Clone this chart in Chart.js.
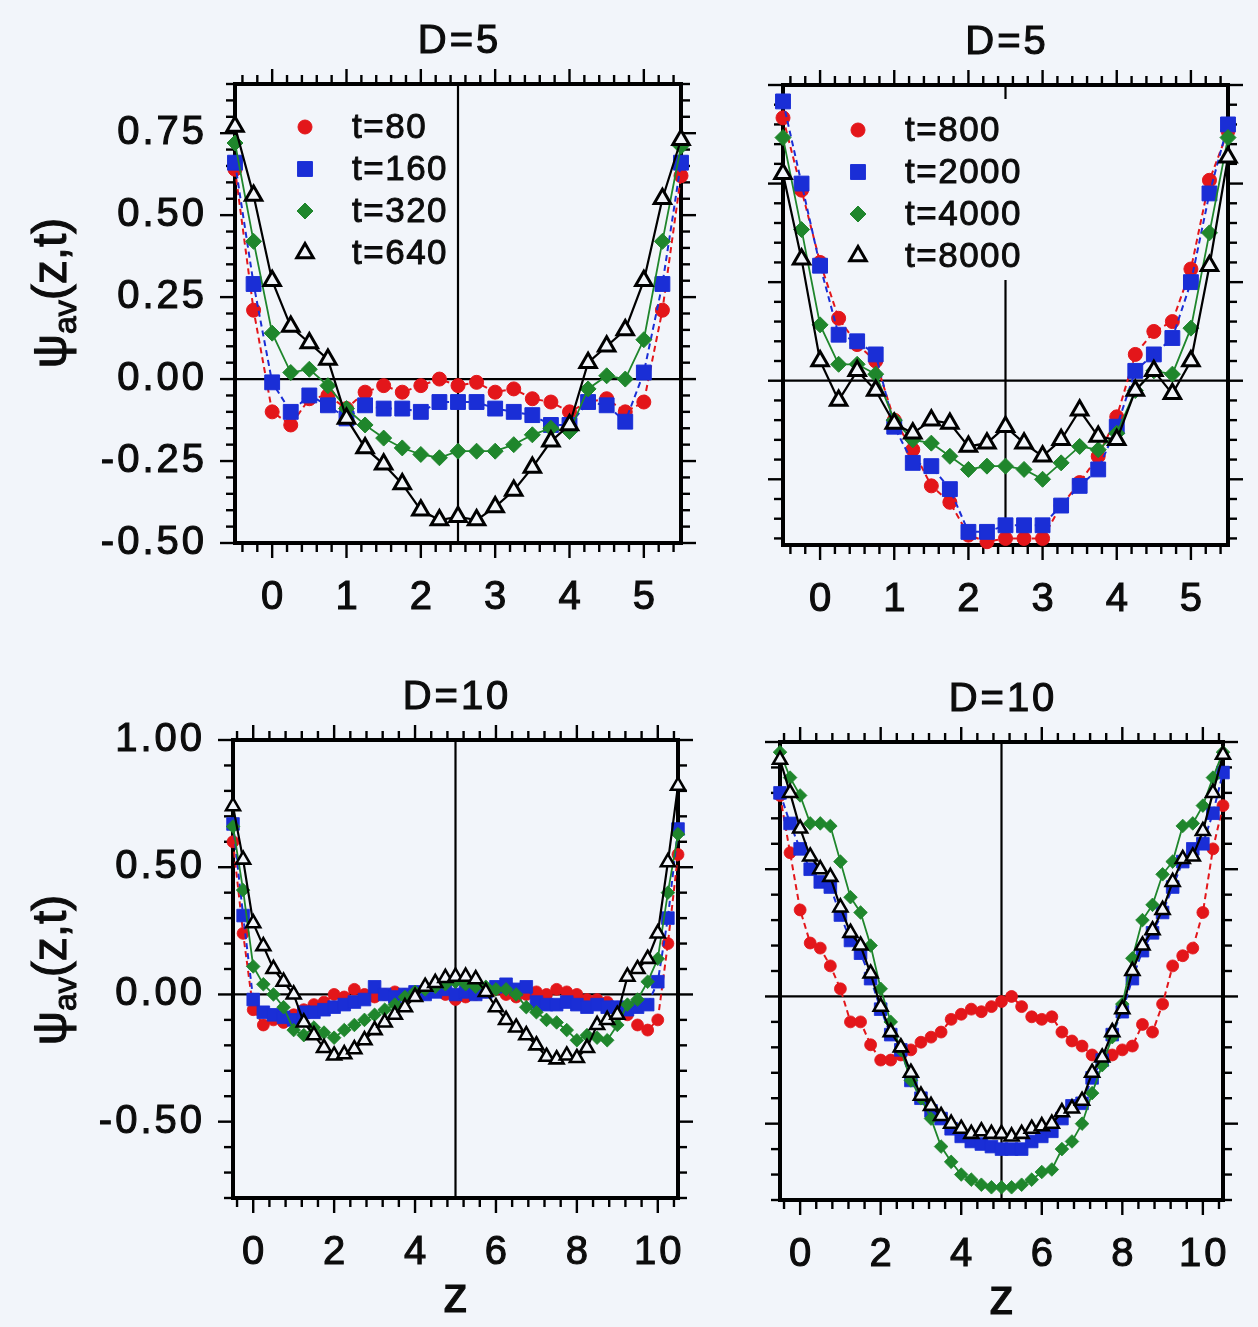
<!DOCTYPE html>
<html>
<head>
  <meta charset="UTF-8">
  <title>ψav(z,t)</title>
  <style>
    body {
      margin: 0;
      width: 1258px;
      height: 1327px;
      background: #f2f5fa;
      overflow: hidden;
      position: relative;
    }

    canvas {
      position: absolute;
    }
  </style>
  <script src="https://cdn.jsdelivr.net/npm/chart.js"></script>
</head>
<body>
  <canvas id="d5early" width="730" height="650" style="left:0;top:0"></canvas>
  <canvas id="d5late" width="528" height="650" style="left:730px;top:0"></canvas>
  <canvas id="d10early" width="730" height="677" style="left:0;top:650px"></canvas>
  <canvas id="d10late" width="528" height="677" style="left:730px;top:650px"></canvas>

  <script>
    // z grid of the profiles
    var zD5 = [-0.5, -0.25, 0, 0.25, 0.5, 0.75, 1, 1.25, 1.5, 1.75, 2, 2.25, 2.5,
               2.75, 3, 3.25, 3.5, 3.75, 4, 4.25, 4.5, 4.75, 5, 5.25, 5.5];
    var zD10 = [-0.5, -0.25, 0, 0.25, 0.5, 0.75, 1, 1.25, 1.5, 1.75, 2, 2.25, 2.5,
                2.75, 3, 3.25, 3.5, 3.75, 4, 4.25, 4.5, 4.75, 5, 5.25, 5.5, 5.75,
                6, 6.25, 6.5, 6.75, 7, 7.25, 7.5, 7.75, 8, 8.25, 8.5, 8.75, 9,
                9.25, 9.5, 9.75, 10, 10.25, 10.5];

    var labelsEarly = ['t=80', 't=160', 't=320', 't=640'];
    var labelsLate = ['t=800', 't=2000', 't=4000', 't=8000'];

    // D=5, early times
    var d5t80 = [0.64, 0.21, -0.10, -0.14, -0.06, -0.05, -0.09, -0.04, -0.02, -0.04, -0.02, 0.00, -0.02,
                 -0.01, -0.04, -0.03, -0.06, -0.07, -0.10, -0.07, -0.06, -0.10, -0.07, 0.21, 0.62];
    var d5t160 = [0.66, 0.29, -0.01, -0.10, -0.05, -0.08, -0.12, -0.08, -0.09, -0.09, -0.10, -0.07, -0.07,
                  -0.07, -0.09, -0.10, -0.11, -0.14, -0.14, -0.07, -0.08, -0.13, 0.02, 0.29, 0.66];
    var d5t320 = [0.72, 0.42, 0.14, 0.02, 0.03, -0.02, -0.09, -0.14, -0.18, -0.21, -0.23, -0.24, -0.22,
                  -0.22, -0.22, -0.20, -0.17, -0.15, -0.16, -0.03, 0.01, 0.00, 0.12, 0.42, 0.71];
    var d5t640 = [0.77, 0.56, 0.30, 0.16, 0.11, 0.06, -0.12, -0.21, -0.26, -0.32, -0.40, -0.43, -0.42,
                  -0.43, -0.39, -0.34, -0.27, -0.19, -0.14, 0.05, 0.10, 0.15, 0.30, 0.55, 0.73];

    // D=5, late times
    var d5t800 = [0.80, 0.58, 0.36, 0.19, 0.11, 0.06, -0.12, -0.21, -0.32, -0.37, -0.47, -0.49, -0.48,
                  -0.48, -0.48, -0.38, -0.31, -0.23, -0.11, 0.08, 0.15, 0.18, 0.34, 0.61, 0.76];
    var d5t2000 = [0.85, 0.60, 0.35, 0.14, 0.12, 0.08, -0.14, -0.25, -0.26, -0.33, -0.46, -0.46, -0.44,
                   -0.44, -0.44, -0.38, -0.32, -0.27, -0.14, 0.03, 0.08, 0.13, 0.30, 0.57, 0.78];
    var d5t4000 = [0.74, 0.46, 0.17, 0.05, 0.05, 0.02, -0.12, -0.18, -0.19, -0.23, -0.27, -0.26, -0.26,
                   -0.27, -0.30, -0.25, -0.20, -0.21, -0.16, -0.03, 0.03, 0.02, 0.16, 0.45, 0.74];
    var d5t8000 = [0.63, 0.37, 0.06, -0.06, 0.03, -0.03, -0.13, -0.16, -0.12, -0.13, -0.20, -0.19, -0.14,
                   -0.19, -0.23, -0.18, -0.09, -0.17, -0.18, -0.03, 0.03, -0.04, 0.06, 0.35, 0.68];

    // D=10, early times
    var d10t80 = [0.60, 0.24, -0.06, -0.12, -0.10, -0.11, -0.08, -0.06, -0.04, -0.03, 0.00, -0.01, 0.02,
                  0.00, -0.01, 0.00, 0.01, 0.00, 0.01, 0.02, 0.02, 0.00, -0.02, -0.01, 0.00, 0.01,
                  0.02, 0.00, -0.01, 0.00, 0.01, 0.00, 0.02, 0.01, 0.00, -0.02, -0.02, -0.03, -0.05,
                  -0.08, -0.12, -0.14, -0.10, 0.20, 0.55];
    var d10t160 = [0.67, 0.31, -0.02, -0.07, -0.08, -0.09, -0.10, -0.07, -0.07, -0.06, -0.05, -0.04, -0.03,
                   -0.02, 0.03, 0.00, -0.01, 0.00, 0.01, 0.00, 0.01, 0.02, 0.00, 0.01, 0.00, 0.01,
                   0.03, 0.04, 0.02, 0.03, -0.03, -0.04, -0.04, -0.03, -0.04, -0.05, -0.04, -0.05, -0.05,
                   -0.06, -0.05, -0.04, 0.05, 0.30, 0.65];
    var d10t320 = [0.66, 0.41, 0.11, 0.04, 0.00, -0.05, -0.14, -0.16, -0.13, -0.15, -0.17, -0.14, -0.12,
                   -0.10, -0.08, -0.06, -0.04, -0.01, 0.01, 0.02, 0.03, 0.04, 0.05, 0.04, 0.03, 0.03,
                   0.02, 0.02, 0.00, -0.05, -0.07, -0.10, -0.11, -0.14, -0.18, -0.16, -0.17, -0.18, -0.12,
                   -0.04, -0.02, 0.05, 0.14, 0.40, 0.63];
    var d10t640 = [0.74, 0.53, 0.28, 0.19, 0.10, 0.05, 0.00, -0.11, -0.16, -0.21, -0.24, -0.235, -0.215,
                   -0.18, -0.14, -0.11, -0.08, -0.05, -0.01, 0.03, 0.045, 0.065, 0.07, 0.07, 0.06, 0.01,
                   -0.05, -0.10, -0.13, -0.16, -0.20, -0.245, -0.255, -0.24, -0.25, -0.21, -0.12, -0.10, -0.08,
                   0.07, 0.10, 0.14, 0.24, 0.52, 0.82];

    // D=10, late times
    var d10t800 = [0.79, 0.565, 0.34, 0.21, 0.19, 0.12, 0.03, -0.10, -0.10, -0.19, -0.25, -0.25, -0.23,
                   -0.21, -0.18, -0.16, -0.14, -0.09, -0.07, -0.05, -0.06, -0.04, -0.02, 0.00, -0.04, -0.08,
                   -0.09, -0.08, -0.14, -0.175, -0.195, -0.23, -0.25, -0.23, -0.21, -0.195, -0.11, -0.14, -0.03,
                   0.12, 0.16, 0.19, 0.33, 0.58, 0.75];
    var d10t2000 = [0.80, 0.68, 0.58, 0.50, 0.45, 0.43, 0.32, 0.22, 0.17, 0.07, -0.05, -0.15, -0.21,
                    -0.33, -0.40, -0.45, -0.48, -0.52, -0.55, -0.57, -0.58, -0.59, -0.60, -0.60, -0.60, -0.57,
                    -0.55, -0.53, -0.48, -0.43, -0.42, -0.32, -0.25, -0.15, -0.06, 0.07, 0.18, 0.25, 0.33,
                    0.43, 0.53, 0.58, 0.60, 0.72, 0.88];
    var d10t4000 = [0.96, 0.86, 0.79, 0.68, 0.68, 0.67, 0.53, 0.39, 0.33, 0.20, 0.03, -0.10, -0.21,
                    -0.33, -0.40, -0.48, -0.59, -0.65, -0.70, -0.72, -0.74, -0.75, -0.75, -0.75, -0.74, -0.72,
                    -0.69, -0.68, -0.60, -0.57, -0.50, -0.38, -0.27, -0.16, -0.03, 0.15, 0.30, 0.36, 0.48,
                    0.53, 0.67, 0.68, 0.75, 0.86, 0.96];
    var d10t8000 = [0.93, 0.80, 0.66, 0.55, 0.50, 0.47, 0.35, 0.25, 0.20, 0.09, -0.04, -0.14, -0.20,
                    -0.30, -0.39, -0.43, -0.47, -0.50, -0.52, -0.54, -0.53, -0.54, -0.54, -0.55, -0.54, -0.52,
                    -0.51, -0.50, -0.455, -0.44, -0.41, -0.30, -0.24, -0.14, -0.05, 0.10, 0.20, 0.26, 0.34,
                    0.45, 0.54, 0.55, 0.65, 0.80, 0.95];

    // axis ticks
    var xTicksD5 = [0, 1, 2, 3, 4, 5];
    var xTicksD10 = [0, 2, 4, 6, 8, 10];
    var yTicksD5 = [-0.5, -0.25, 0, 0.25, 0.5, 0.75];
    var yTicksD5Late = [-0.3, 0, 0.3, 0.6, 0.9];
    var yTicksD10 = [-0.5, 0, 0.5, 1.0];

    var BG = '#f2f5fa';
    var INK = '#0c0c0c';
    var FONT = '"Liberation Sans", Arial, Helvetica, sans-serif';

    // red, blue, green, black
    var seriesStyle = [
      { color: '#e3161a', fill: '#e3161a', point: 'circle', r: 7, dash: [6, 4], width: 2, pb: 1, order: 3 },
      { color: '#1a2ed6', fill: '#1a2ed6', point: 'rect', r: 10.5, dash: [6, 4], width: 2, pb: 1, order: 2 },
      { color: '#1f862c', fill: '#1f862c', point: 'rectRot', r: 8, dash: [], width: 1.8, pb: 1, order: 1 },
      { color: '#000000', fill: BG, point: 'triangle', r: 9.5, dash: [], width: 2.2, pb: 3, order: 0 }
    ];

    function line(ctx, x1, y1, x2, y2) {
      ctx.beginPath();
      ctx.moveTo(x1, y1);
      ctx.lineTo(x2, y2);
      ctx.stroke();
    }

    // slightly heavier text, like the printed figure
    function text(ctx, s, x, y) {
      ctx.fillText(s, x, y);
      ctx.strokeText(s, x, y);
    }

    function steps(min, max, step) {
      var out = [];
      for (var k = Math.ceil(min / step - 1e-9); k * step <= max + 1e-9; k++) {
        out.push(k * step);
      }
      return out;
    }

    function marker(ctx, st, x, y, scale) {
      ctx.save();
      ctx.setLineDash([]);
      ctx.fillStyle = st.fill;
      ctx.strokeStyle = st.color;
      ctx.lineWidth = st.pb;
      Chart.helpers.drawPoint(ctx, { pointStyle: st.point, radius: st.r * scale, rotation: 0, borderWidth: st.pb }, x, y);
      ctx.restore();
    }

    // frame, ticks, labels, guide lines and legend
    var framePlugin = {
      id: 'frame',
      beforeDatasetsDraw: function (chart, args, o) {
        var ctx = chart.ctx, a = chart.chartArea;
        var sx = chart.scales.x, sy = chart.scales.y;
        ctx.save();
        ctx.strokeStyle = '#000';
        ctx.fillStyle = '#000';

        // zero line and centre line
        ctx.lineWidth = 2.2;
        var y0 = sy.getPixelForValue(0);
        line(ctx, a.left, y0, a.right, y0);
        var xm = sx.getPixelForValue(o.mid);
        line(ctx, xm, a.top, xm, a.bottom);

        // legend
        if (o.legend) {
          var lg = o.legend;
          ctx.font = '35px ' + FONT;
          ctx.letterSpacing = '1.5px';
          var mx = a.left + lg.dx, tx = a.left + lg.tdx, ry = a.top + lg.dy;
          var wmax = 0;
          lg.labels.forEach(function (t) { wmax = Math.max(wmax, ctx.measureText(t).width); });
          ctx.fillStyle = BG;
          ctx.fillRect(mx - 18, a.top + 14, tx + wmax + 6 - (mx - 18), ry + 3 * lg.gap + 24 - (a.top + 14));
          ctx.textAlign = 'left';
          ctx.textBaseline = 'middle';
          lg.labels.forEach(function (t, i) {
            marker(ctx, seriesStyle[i], mx, ry + i * lg.gap, 1);
            ctx.fillStyle = INK;
            ctx.strokeStyle = INK;
            ctx.lineWidth = 0.9;
            text(ctx, t, tx, ry + i * lg.gap + 1);
          });
        }

        // box
        ctx.strokeStyle = '#000';
        ctx.lineWidth = 4;
        ctx.strokeRect(a.left, a.top, a.right - a.left, a.bottom - a.top);

        // ticks on all four sides, pointing out
        ctx.lineWidth = 2.4;
        steps(sx.min, sx.max, o.xMinor).forEach(function (v) {
          var major = o.xTicks.some(function (t) { return Math.abs(t - v) < 1e-6; });
          var len = major ? 15 : 9, px = sx.getPixelForValue(v);
          line(ctx, px, a.bottom, px, a.bottom + len);
          line(ctx, px, a.top, px, a.top - len);
        });
        steps(sy.min, sy.max, o.yMinor).forEach(function (v) {
          var major = o.yTicks.some(function (t) { return Math.abs(t - v) < 1e-6; });
          var len = major ? 15 : 9, py = sy.getPixelForValue(v);
          line(ctx, a.left, py, a.left - len, py);
          line(ctx, a.right, py, a.right + len, py);
        });

        // tick labels
        ctx.fillStyle = INK;
        ctx.strokeStyle = INK;
        ctx.lineWidth = 1.1;
        ctx.font = '40px ' + FONT;
        ctx.letterSpacing = '3px';
        ctx.textBaseline = 'middle';
        ctx.textAlign = 'center';
        o.xTicks.forEach(function (v) {
          text(ctx, String(v), sx.getPixelForValue(v) + 1.5, a.bottom + 55);
        });
        if (o.yLabels) {
          ctx.textAlign = 'right';
          o.yTicks.forEach(function (v) {
            text(ctx, v.toFixed(2), a.left - 28, sy.getPixelForValue(v));
          });
        }

        // panel title
        ctx.textAlign = 'center';
        text(ctx, o.title, (a.left + a.right) / 2 + 1.5, a.top - 42);

        // z under the bottom panels
        if (o.xTitle) {
          ctx.font = '50px ' + FONT;
          ctx.letterSpacing = '0px';
          text(ctx, 'z', (a.left + a.right) / 2, a.bottom + 100);
        }

        // psi_av(z,t) along the left side
        if (o.yTitle) {
          ctx.letterSpacing = '0px';
          ctx.translate(52, o.yTitle);
          ctx.rotate(-Math.PI / 2);
          ctx.textAlign = 'left';
          ctx.textBaseline = 'alphabetic';
          ctx.font = '48px ' + FONT;
          var w1 = ctx.measureText('ψ').width;
          var w3 = ctx.measureText('(z,t)').width;
          ctx.font = '32px ' + FONT;
          var w2 = ctx.measureText('av').width;
          var x0 = -(w1 + w2 + w3) / 2;
          ctx.font = '48px ' + FONT;
          text(ctx, 'ψ', x0, 14);
          ctx.font = '32px ' + FONT;
          text(ctx, 'av', x0 + w1, 24);
          ctx.font = '48px ' + FONT;
          text(ctx, '(z,t)', x0 + w1 + w2, 14);
        }
        ctx.restore();
      }
    };

    function makeChart(id, z, series, labels, scale, frame, padding, xr, yr) {
      var datasets = series.map(function (vals, i) {
        var st = seriesStyle[i];
        return {
          label: labels[i],
          data: z.map(function (zz, k) { return { x: zz, y: vals[k] }; }),
          borderColor: st.color,
          backgroundColor: st.fill,
          borderDash: st.dash,
          borderWidth: st.width,
          pointStyle: st.point,
          pointRadius: st.r * scale,
          pointBorderWidth: st.pb * (scale < 1 ? 0.85 : 1),
          pointBorderColor: st.color,
          pointBackgroundColor: st.fill,
          tension: 0,
          clip: false,
          order: st.order
        };
      });
      return new Chart(document.getElementById(id), {
        type: 'line',
        data: { datasets: datasets },
        options: {
          responsive: false,
          animation: false,
          layout: { padding: padding },
          scales: {
            x: { type: 'linear', min: xr[0], max: xr[1], display: false },
            y: { type: 'linear', min: yr[0], max: yr[1], display: false }
          },
          plugins: {
            legend: { display: false },
            tooltip: { enabled: false },
            frame: frame
          }
        },
        plugins: [framePlugin]
      });
    }

    makeChart('d5early', zD5, [d5t80, d5t160, d5t320, d5t640], labelsEarly, 1,
      { mid: 2.5, title: 'D=5', xTicks: xTicksD5, xMinor: 0.2, yTicks: yTicksD5, yMinor: 0.05, yLabels: true,
        yTitle: 293, legend: { labels: labelsEarly, dx: 70, tdx: 117, dy: 43, gap: 42 } },
      { left: 235, right: 49, top: 84, bottom: 107 }, [-0.5, 5.5], [-0.5, 0.9]);

    makeChart('d5late', zD5, [d5t800, d5t2000, d5t4000, d5t8000], labelsLate, 1,
      { mid: 2.5, title: 'D=5', xTicks: xTicksD5, xMinor: 0.2, yTicks: yTicksD5Late, yMinor: 0.06, yLabels: false,
        legend: { labels: labelsLate, dx: 75, tdx: 122, dy: 45, gap: 42 } },
      { left: 53, right: 30, top: 85, bottom: 105 }, [-0.5, 5.5], [-0.5, 0.9]);

    makeChart('d10early', zD10, [d10t80, d10t160, d10t320, d10t640], labelsEarly, 0.85,
      { mid: 5, title: 'D=10', xTicks: xTicksD10, xMinor: 0.4, yTicks: yTicksD10, yMinor: 0.1, yLabels: true,
        yTitle: 320, xTitle: true },
      { left: 233, right: 52, top: 90, bottom: 129 }, [-0.5, 10.5], [-0.8, 1.0]);

    makeChart('d10late', zD10, [d10t800, d10t2000, d10t4000, d10t8000], labelsLate, 0.85,
      { mid: 5, title: 'D=10', xTicks: xTicksD10, xMinor: 0.4, yTicks: yTicksD10, yMinor: 0.1, yLabels: false,
        xTitle: true },
      { left: 50, right: 35, top: 92, bottom: 127 }, [-0.5, 10.5], [-0.8, 1.0]);
  </script>
</body>
</html>
